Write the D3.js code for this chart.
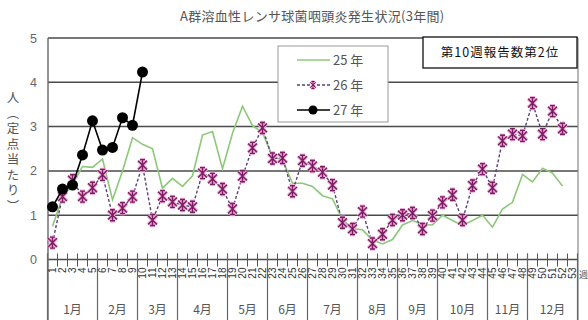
<!DOCTYPE html>
<html>
<head>
<meta charset="utf-8">
<script src="https://cdn.jsdelivr.net/npm/d3@7"></script>
<style>
  body { margin: 0; background: #fff; }
  svg { display: block; }
</style>
</head>
<body>
<svg id="chart" width="588" height="320"></svg>
<script>
// ---- data ----
const weeks = d3.range(1, 54);                       // week 1 .. 53
const seriesNames = ["25 年", "26 年", "27 年"];
const s25 = [0.75, 1.4, 1.7, 2.1, 2.08, 2.27, 1.35, 2.0, 2.75, 2.6,
             2.5, 1.61, 1.83, 1.65, 1.89, 2.81, 2.89, 2.05, 2.85, 3.46,
             3.02, 2.87, 2.32, 2.25, 1.72, 1.72, 1.65, 1.44, 1.37, 0.9,
             0.7, 0.67, 0.44, 0.35, 0.45, 0.78, 0.88, 0.79, 0.78, 1.0,
             0.88, 0.77, 0.88, 1.0, 0.73, 1.14, 1.29, 1.92, 1.75, 2.06,
             1.95, 1.66];
const s26 = [0.38, 1.42, 1.79, 1.42, 1.62, 1.91, 1.00, 1.16, 1.42, 2.13,
             0.89, 1.43, 1.30, 1.23, 1.19, 1.95, 1.82, 1.59, 1.14, 1.88,
             2.52, 2.97, 2.28, 2.29, 1.54, 2.23, 2.11, 1.97, 1.68, 0.83,
             0.69, 1.08, 0.36, 0.57, 0.89, 1.00, 1.05, 0.69, 0.99, 1.29,
             1.46, 0.89, 1.67, 2.04, 1.62, 2.68, 2.83, 2.79, 3.53, 2.83,
             3.35, 2.95];
const s27 = [1.19, 1.59, 1.68, 2.36, 3.13, 2.47, 2.53, 3.20, 3.03, 4.23];
const months = ["1月", "2月", "3月", "4月", "5月", "6月", "7月", "8月", "9月", "10月", "11月", "12月"];
const monthFirstWeek = [1, 6, 10, 14, 19, 23, 27, 32, 36, 40, 45, 49];
const yTicks = [0, 1, 2, 3, 4, 5];
const titleText = "A群溶血性レンサ球菌咽頭炎発生状況(3年間)";
const yTitleText = "人（定点当たり）";
const noteText = "第10週報告数第2位";
const weekUnit = "週";

// ---- layout ----
const svg = d3.select("#chart");
const plotL = 48, plotR = 578, plotT = 38, plotB = 259.5, chartB = 320;
const FONT = "'Liberation Sans', Arial, sans-serif";
const JFONT = "'Noto Sans CJK JP', 'Noto Sans', sans-serif";
const GREY = "#555";

const x = d3.scaleBand().domain(weeks).range([plotL - 0.5, plotR - 0.5]).padding(0);
const xc = w => x(w) + x.bandwidth() / 2;
const y = d3.scaleLinear().domain([0, 5]).range([plotB, plotT]);

// title
svg.append("text")
  .attr("x", 180).attr("y", 21)
  .attr("font-family", JFONT).attr("font-size", 13)
  .attr("fill", GREY)
  .style("letter-spacing", "0.3px")
  .text(titleText);

// horizontal grid lines
svg.append("g").selectAll("line")
  .data(yTicks)
  .join("line")
  .attr("x1", plotL).attr("x2", plotR)
  .attr("y1", d => y(d)).attr("y2", d => y(d))
  .attr("stroke", "#4a4a4a").attr("stroke-width", 1.5);

// left and right frame
svg.append("line").attr("x1", plotL).attr("x2", plotL).attr("y1", plotT).attr("y2", chartB)
  .attr("stroke", "#666").attr("stroke-width", 1.4);
svg.append("line").attr("x1", plotR).attr("x2", plotR).attr("y1", plotT).attr("y2", chartB)
  .attr("stroke", "#888").attr("stroke-width", 1.2);

// y axis labels
const yAxis = svg.append("g")
  .attr("transform", `translate(${plotL},0)`)
  .call(d3.axisLeft(y).tickValues(yTicks).tickSize(0).tickPadding(11).tickFormat(d3.format("d")));
yAxis.select(".domain").remove();
yAxis.selectAll("text")
  .attr("font-family", FONT).attr("font-size", 12.5).attr("fill", "#666");

// y axis title (vertical)
svg.append("text")
  .attr("x", 13).attr("y", 153)
  .attr("font-family", JFONT).attr("font-size", 12.5)
  .attr("fill", GREY)
  .attr("text-anchor", "middle")
  .style("writing-mode", "vertical-rl")
  .style("letter-spacing", "3px")
  .text(yTitleText);

// week tick marks at week boundaries
const bounds = weeks.map(w => x(w)).concat([x(53) + x.bandwidth()]);
svg.append("g").selectAll("line")
  .data(bounds)
  .join("line")
  .attr("x1", d => d).attr("x2", d => d)
  .attr("y1", plotB - 6).attr("y2", plotB + 7)
  .attr("stroke", "#555").attr("stroke-width", 1);

// week numbers (rotated)
const xAxis = svg.append("g")
  .attr("transform", `translate(0,${plotB})`)
  .call(d3.axisBottom(x).tickSize(0).tickFormat(d => String(d)));
xAxis.select(".domain").remove();
xAxis.selectAll("text")
  .attr("font-family", FONT).attr("font-size", 10).attr("fill", "#333")
  .attr("transform", "rotate(-90)")
  .attr("x", -8).attr("y", 0).attr("dy", "0.35em")
  .style("text-anchor", "end");

// month separators and labels
const monthBounds = monthFirstWeek.map(w => x(w)).concat([x(53) + x.bandwidth()]);
svg.append("g").selectAll("line")
  .data(monthBounds)
  .join("line")
  .attr("x1", d => d).attr("x2", d => d)
  .attr("y1", plotB - 6).attr("y2", chartB)
  .attr("stroke", "#666").attr("stroke-width", 1.2);
svg.append("g").selectAll("text")
  .data(months)
  .join("text")
  .attr("x", (d, i) => (monthBounds[i] + monthBounds[i + 1]) / 2)
  .attr("y", 314)
  .attr("text-anchor", "middle")
  .attr("font-family", JFONT).attr("font-size", 12).attr("fill", GREY)
  .text(d => d);

svg.append("text")
  .attr("x", 579).attr("y", 278)
  .attr("font-family", JFONT).attr("font-size", 9).attr("fill", GREY)
  .text(weekUnit);

// ---- series ----
const line = d3.line().x((d, i) => xc(weeks[i])).y(d => y(d));

// X with a vertical stroke, used for the 26年 series
function starPath(cx, cy, r) {
  const d = r * 0.8;
  return `M${cx - d},${cy - d}L${cx + d},${cy + d}` +
         `M${cx - d},${cy + d}L${cx + d},${cy - d}` +
         `M${cx},${cy - r}L${cx},${cy + r}` +
         `M${cx - r * 0.45},${cy - r}L${cx + r * 0.45},${cy - r}` +
         `M${cx - r * 0.45},${cy + r}L${cx + r * 0.45},${cy + r}`;
}

// 25年
svg.append("path").datum(s25)
  .attr("d", line)
  .attr("fill", "none").attr("stroke", "#8cc878").attr("stroke-width", 1.6);

// 26年
svg.append("path").datum(s26)
  .attr("d", line)
  .attr("fill", "none").attr("stroke", "#5a3f7e").attr("stroke-width", 1.4)
  .attr("stroke-dasharray", "3,2");
const m26 = svg.append("g");
m26.selectAll("path.halo")
  .data(s26)
  .join("path").attr("class", "halo")
  .attr("d", (d, i) => starPath(xc(weeks[i]), y(d), 5.5))
  .attr("fill", "none").attr("stroke", "#eeaadb").attr("stroke-width", 3.4);
m26.selectAll("path.mark")
  .data(s26)
  .join("path").attr("class", "mark")
  .attr("d", (d, i) => starPath(xc(weeks[i]), y(d), 5.5))
  .attr("fill", "none").attr("stroke", "#7a1e5f").attr("stroke-width", 1.4);

// 27年
svg.append("path").datum(s27)
  .attr("d", line)
  .attr("fill", "none").attr("stroke", "#000").attr("stroke-width", 1.6);
svg.append("g").selectAll("circle")
  .data(s27)
  .join("circle")
  .attr("cx", (d, i) => xc(weeks[i])).attr("cy", d => y(d))
  .attr("r", 5.5).attr("fill", "#000");

// ---- legend ----
const lg = svg.append("g");
lg.append("rect")
  .attr("x", 278).attr("y", 46).attr("width", 110).attr("height", 76)
  .attr("fill", "#fff").attr("stroke", "#999").attr("stroke-width", 1);
const legendY = [60, 85, 110];
seriesNames.forEach((name, i) => {
  const ly = legendY[i];
  const seg = lg.append("line").attr("x1", 297).attr("x2", 330).attr("y1", ly).attr("y2", ly);
  if (i === 0) seg.attr("stroke", "#8cc878").attr("stroke-width", 1.6);
  if (i === 1) {
    seg.attr("stroke", "#5a3f7e").attr("stroke-width", 1.3).attr("stroke-dasharray", "3,2");
    lg.append("path").attr("d", starPath(313, ly, 3.5))
      .attr("fill", "none").attr("stroke", "#eeaadb").attr("stroke-width", 2.4);
    lg.append("path").attr("d", starPath(313, ly, 3.5))
      .attr("fill", "none").attr("stroke", "#7a1e5f").attr("stroke-width", 1);
  }
  if (i === 2) {
    seg.attr("stroke", "#000").attr("stroke-width", 1.6);
    lg.append("circle").attr("cx", 313).attr("cy", ly).attr("r", 4.5).attr("fill", "#000");
  }
  lg.append("text")
    .attr("x", 333).attr("y", ly + 4.5)
    .attr("font-family", JFONT).attr("font-size", 13).attr("fill", GREY)
    .text(name);
});

// ---- note box ----
svg.append("rect")
  .attr("x", 423).attr("y", 37).attr("width", 154).attr("height", 31)
  .attr("fill", "#fff").attr("stroke", "#111").attr("stroke-width", 1.3);
svg.append("text")
  .attr("x", 500).attr("y", 57)
  .attr("text-anchor", "middle")
  .attr("font-family", JFONT).attr("font-size", 12.5).attr("fill", "#111")
  .style("letter-spacing", "1px")
  .text(noteText);
</script>
</body>
</html>
